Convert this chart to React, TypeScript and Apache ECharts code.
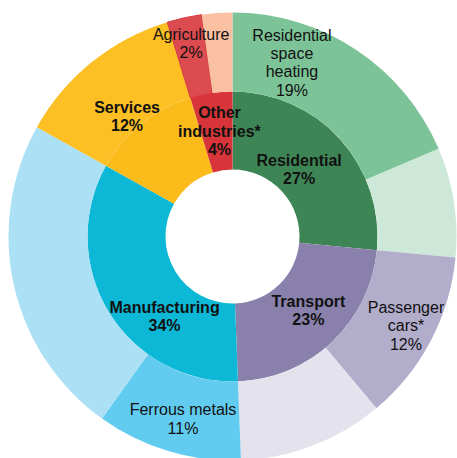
import React, { useEffect, useRef } from "react";
import * as echarts from "echarts";

// Inner ring: sectors
const innerCategories = ["Residential", "Transport", "Manufacturing", "Services", "Other\nindustries*"];
const innerValues = [26.5, 22.9, 33.7, 12.2, 4.7];
const innerLabelPercents = [27, 23, 34, 12, 4];

// Outer ring: sub-sectors
const outerCategories = [
  "Residential\nspace\nheating",
  "Residential (other)",
  "Passenger\ncars*",
  "Transport (other)",
  "Ferrous metals",
  "Manufacturing (other)",
  "Services",
  "Agriculture",
  "Other",
];
const outerValues = [18.6, 7.9, 12.4, 10.5, 10.5, 23.2, 12.2, 2.5, 2.2];
const outerLabelPercents: (number | null)[] = [19, null, 12, null, 11, null, null, 2, null];

const innerColors = ["#3e8555", "#8981ab", "#0cb8d5", "#fbbb1b", "#d8353a"];
const outerColors = ["#7dc398", "#cde8d8", "#b2adcb", "#e4e2ec", "#62ccf0", "#ace0f4", "#fcbf24", "#dc4b4f", "#f9c0a2"];

const innerLabelShift = [[-14, 6], [1, -5.5], [25, 23], [-37, -35], [3, 2.5]];
const outerLabelShift = [[-44, -17.5], [0, 0], [7.5, 2], [0, 0], [4.5, 3], [0, 0], [0, 0], [-1, -10], [0, 0]];

export default function App() {
  const ref = useRef<HTMLDivElement>(null);
  useEffect(() => {
    if (!ref.current) return;
    const chart = echarts.init(ref.current, null, { renderer: "svg" });
    const font = "'Liberation Sans', Arial, sans-serif";
    chart.setOption({
      animation: false,
      backgroundColor: "#ffffff",
      series: [
        {
          type: "pie",
          center: [232.5, 236.5],
          radius: [67, 145],
          startAngle: 90,
          clockwise: true,
          avoidLabelOverlap: false,
          silent: true,
          emphasis: { disabled: true },
          label: {
            show: true,
            position: "inside",
            color: "#111",
            fontFamily: font,
            fontSize: 16,
            fontWeight: "bold",
            lineHeight: 18.3,
            align: "center",
            formatter: (p: any) => `${p.name}\n${innerLabelPercents[p.dataIndex]}%`,
          },
          labelLine: { show: false },
          labelLayout: (p: any) => {
            const s = innerLabelShift[p.dataIndex] || [0, 0];
            return { dx: s[0], dy: s[1] };
          },
          data: innerCategories.map((name, i) => ({
            name,
            value: innerValues[i],
            itemStyle: { color: innerColors[i] },
          })),
        },
        {
          type: "pie",
          center: [232.5, 236.5],
          radius: [145, 224],
          startAngle: 90,
          clockwise: true,
          avoidLabelOverlap: false,
          silent: true,
          emphasis: { disabled: true },
          label: {
            show: true,
            position: "inside",
            color: "#111",
            fontFamily: font,
            fontSize: 16,
            fontWeight: "normal",
            lineHeight: 18.3,
            align: "center",
            formatter: (p: any) => `${p.name}\n${outerLabelPercents[p.dataIndex]}%`,
          },
          labelLine: { show: false },
          labelLayout: (p: any) => {
            const s = outerLabelShift[p.dataIndex] || [0, 0];
            return { dx: s[0], dy: s[1] };
          },
          data: outerCategories.map((name, i) => ({
            name,
            value: outerValues[i],
            itemStyle:
              i === 7
                ? { color: outerColors[i], borderColor: "#d63a3d", borderWidth: 1 }
                : { color: outerColors[i] },
            label: { show: outerLabelPercents[i] !== null },
          })),
        },
      ],
    });
    return () => chart.dispose();
  }, []);
  return (
    <div
      ref={ref}
      style={{ position: "absolute", left: 0, top: 0, width: 457, height: 458 }}
    />
  );
}
